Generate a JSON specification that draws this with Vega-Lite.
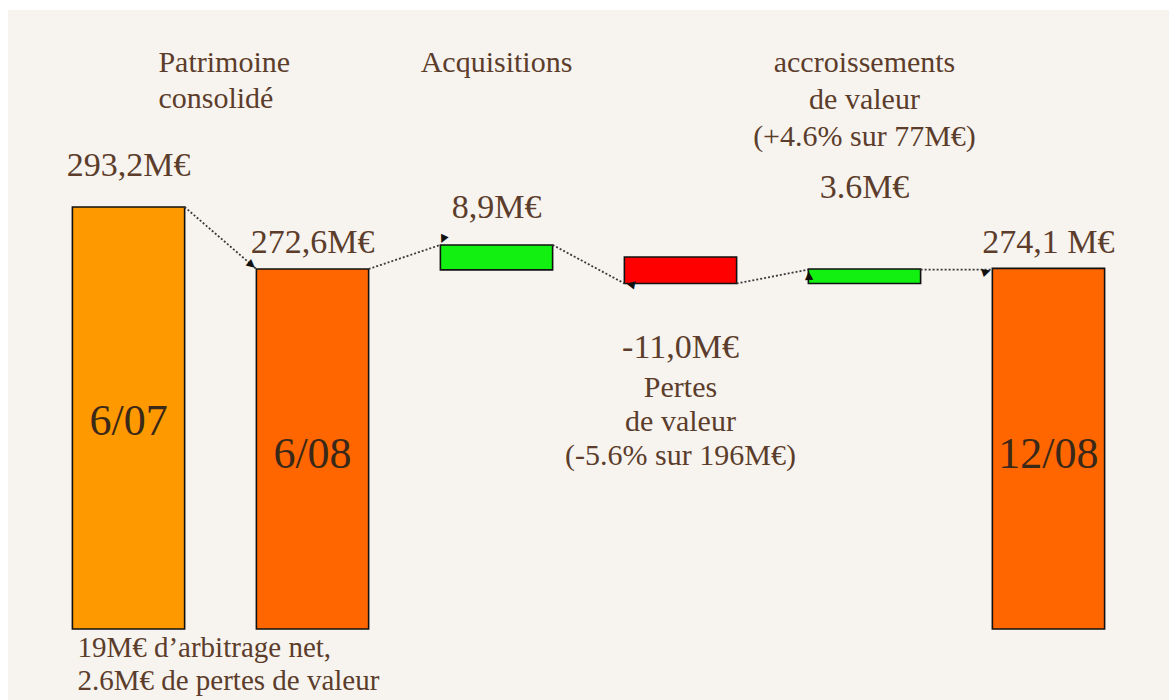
{
  "$schema": "https://vega.github.io/schema/vega-lite/v6.json",
  "width": 1169,
  "height": 700,
  "autosize": {"type": "fit", "contains": "padding"},
  "padding": {"left": 8, "top": 10, "right": 0, "bottom": 0},
  "background": "white",
  "config": {
    "view": {"stroke": null, "fill": "#f7f4f0"},
    "text": {"font": "Liberation Serif", "color": "#5c3d2b", "baseline": "alphabetic"}
  },
  "datasets": {
    "bars": [
      {"step": "6/07", "kind": "total2007", "start": 153.0, "end": 293.2},
      {"step": "6/08", "kind": "total", "start": 153.0, "end": 272.6},
      {"step": "Acquisitions", "kind": "hausse", "start": 272.3, "end": 280.6},
      {"step": "Pertes", "kind": "baisse", "start": 267.8, "end": 276.6},
      {"step": "Accroissements", "kind": "hausse", "start": 267.8, "end": 272.6},
      {"step": "12/08", "kind": "total", "start": 153.0, "end": 272.8}
    ],
    "links": [
      {"from": "6/07", "to": "6/08", "y_from": 293.2, "y_to": 272.6},
      {"from": "6/08", "to": "Acquisitions", "y_from": 272.6, "y_to": 280.6},
      {"from": "Acquisitions", "to": "Pertes", "y_from": 280.6, "y_to": 267.8},
      {"from": "Pertes", "to": "Accroissements", "y_from": 267.8, "y_to": 272.4},
      {"from": "Accroissements", "to": "12/08", "y_from": 272.4, "y_to": 272.4}
    ],
    "labels": [
      {"step": "6/07", "y": 338.05, "role": "titleLeft", "text": "Patrimoine\nconsolidé"},
      {"step": "Acquisitions", "y": 338.05, "role": "title", "text": "Acquisitions"},
      {"step": "Accroissements", "y": 338.05, "role": "title", "text": "accroissements\nde valeur\n(+4.6% sur 77M€)"},
      {"step": "Pertes", "y": 230.0, "role": "title2", "text": "Pertes\nde valeur\n(-5.6% sur 196M€)"},
      {"step": "6/07", "y": 303.5, "role": "value", "text": "293,2M€"},
      {"step": "6/08", "y": 277.9, "role": "value", "text": "272,6M€"},
      {"step": "Acquisitions", "y": 289.55, "role": "value", "text": "8,9M€"},
      {"step": "Pertes", "y": 243.0, "role": "value", "text": "-11,0M€"},
      {"step": "Accroissements", "y": 296.2, "role": "value", "text": "3.6M€"},
      {"step": "12/08", "y": 277.9, "role": "value", "text": "274,1 M€"},
      {"step": "6/07", "y": 217.45, "role": "date", "text": "6/07"},
      {"step": "6/08", "y": 206.5, "role": "date", "text": "6/08"},
      {"step": "12/08", "y": 206.5, "role": "date", "text": "12/08"},
      {"step": "6/07", "y": 143.7, "role": "note", "text": "19M€ d’arbitrage net,\n2.6M€ de pertes de valeur"}
    ]
  },
  "layer": [
    {
      "data": {"name": "bars"},
      "mark": {"type": "bar", "stroke": "#111111", "strokeWidth": 1.6},
      "encoding": {
        "x": {"field": "step", "type": "nominal", "axis": null,
              "scale": {"domain": ["6/07", "6/08", "Acquisitions", "Pertes", "Accroissements", "12/08"], "paddingInner": 0.39, "paddingOuter": 0.35}},
        "y": {"field": "start", "type": "quantitative", "axis": null,
              "scale": {"domain": [129.41, 358.65], "nice": false, "zero": false}},
        "y2": {"field": "end"},
        "color": {"field": "kind", "type": "nominal", "legend": null,
                  "scale": {"domain": ["total2007", "total", "hausse", "baisse"], "range": ["#ff9900", "#ff6600", "#11f011", "#ff0000"]}}
      }
    },
    {
      "data": {"name": "links"},
      "mark": {"type": "rule", "color": "#3a3a3a", "strokeWidth": 1.8, "strokeDash": [2, 2]},
      "encoding": {
        "x": {"field": "from", "type": "nominal", "bandPosition": 1, "axis": null,
              "scale": {"domain": ["6/07", "6/08", "Acquisitions", "Pertes", "Accroissements", "12/08"], "paddingInner": 0.39, "paddingOuter": 0.35}},
        "x2": {"field": "to", "bandPosition": 0},
        "y": {"field": "y_from", "type": "quantitative", "axis": null,
              "scale": {"domain": [129.41, 358.65], "nice": false, "zero": false}},
        "y2": {"field": "y_to"}
      }
    },
    {
      "data": {"name": "links"},
      "mark": {"type": "text", "font": "DejaVu Sans", "fontSize": 11, "align": "right", "baseline": "middle", "color": "#111111", "dx": -2},
      "encoding": {
        "x": {"field": "to", "type": "nominal", "bandPosition": 0, "axis": null,
              "scale": {"domain": ["6/07", "6/08", "Acquisitions", "Pertes", "Accroissements", "12/08"], "paddingInner": 0.39, "paddingOuter": 0.35}},
        "y": {"field": "y_to", "type": "quantitative", "axis": null,
              "scale": {"domain": [129.41, 358.65], "nice": false, "zero": false}},
        "text": {"value": "▶"},
        "angle": {"field": "to", "type": "nominal", "legend": null,
                  "scale": {"domain": ["6/08", "Acquisitions", "Pertes", "Accroissements", "12/08"], "range": [40, 342, 28, 349, 0]}}
      }
    },
    {
      "data": {"name": "labels"},
      "transform": [{"filter": "datum.role === 'titleLeft'"}],
      "mark": {"type": "text", "align": "left", "fontSize": 30, "lineHeight": 36, "lineBreak": "\n", "dx": 86},
      "encoding": {
        "x": {"field": "step", "type": "nominal", "bandPosition": 0, "axis": null,
              "scale": {"domain": ["6/07", "6/08", "Acquisitions", "Pertes", "Accroissements", "12/08"], "paddingInner": 0.39, "paddingOuter": 0.35}},
        "y": {"field": "y", "type": "quantitative", "axis": null,
              "scale": {"domain": [129.41, 358.65], "nice": false, "zero": false}},
        "text": {"field": "text", "type": "nominal"}
      }
    },
    {
      "data": {"name": "labels"},
      "transform": [{"filter": "datum.role === 'title'"}],
      "mark": {"type": "text", "align": "center", "fontSize": 30, "lineHeight": 37, "lineBreak": "\n"},
      "encoding": {
        "x": {"field": "step", "type": "nominal", "bandPosition": 0.5, "axis": null,
              "scale": {"domain": ["6/07", "6/08", "Acquisitions", "Pertes", "Accroissements", "12/08"], "paddingInner": 0.39, "paddingOuter": 0.35}},
        "y": {"field": "y", "type": "quantitative", "axis": null,
              "scale": {"domain": [129.41, 358.65], "nice": false, "zero": false}},
        "text": {"field": "text", "type": "nominal"}
      }
    },
    {
      "data": {"name": "labels"},
      "transform": [{"filter": "datum.role === 'title2'"}],
      "mark": {"type": "text", "align": "center", "fontSize": 30, "lineHeight": 34, "lineBreak": "\n"},
      "encoding": {
        "x": {"field": "step", "type": "nominal", "bandPosition": 0.5, "axis": null,
              "scale": {"domain": ["6/07", "6/08", "Acquisitions", "Pertes", "Accroissements", "12/08"], "paddingInner": 0.39, "paddingOuter": 0.35}},
        "y": {"field": "y", "type": "quantitative", "axis": null,
              "scale": {"domain": [129.41, 358.65], "nice": false, "zero": false}},
        "text": {"field": "text", "type": "nominal"}
      }
    },
    {
      "data": {"name": "labels"},
      "transform": [{"filter": "datum.role === 'value'"}],
      "mark": {"type": "text", "align": "center", "fontSize": 34},
      "encoding": {
        "x": {"field": "step", "type": "nominal", "bandPosition": 0.5, "axis": null,
              "scale": {"domain": ["6/07", "6/08", "Acquisitions", "Pertes", "Accroissements", "12/08"], "paddingInner": 0.39, "paddingOuter": 0.35}},
        "y": {"field": "y", "type": "quantitative", "axis": null,
              "scale": {"domain": [129.41, 358.65], "nice": false, "zero": false}},
        "text": {"field": "text", "type": "nominal"}
      }
    },
    {
      "data": {"name": "labels"},
      "transform": [{"filter": "datum.role === 'date'"}],
      "mark": {"type": "text", "align": "center", "fontSize": 44, "color": "#3a2818"},
      "encoding": {
        "x": {"field": "step", "type": "nominal", "bandPosition": 0.5, "axis": null,
              "scale": {"domain": ["6/07", "6/08", "Acquisitions", "Pertes", "Accroissements", "12/08"], "paddingInner": 0.39, "paddingOuter": 0.35}},
        "y": {"field": "y", "type": "quantitative", "axis": null,
              "scale": {"domain": [129.41, 358.65], "nice": false, "zero": false}},
        "text": {"field": "text", "type": "nominal"}
      }
    },
    {
      "data": {"name": "labels"},
      "transform": [{"filter": "datum.role === 'note'"}],
      "mark": {"type": "text", "align": "left", "fontSize": 29, "lineHeight": 33, "lineBreak": "\n", "dx": 5},
      "encoding": {
        "x": {"field": "step", "type": "nominal", "bandPosition": 0, "axis": null,
              "scale": {"domain": ["6/07", "6/08", "Acquisitions", "Pertes", "Accroissements", "12/08"], "paddingInner": 0.39, "paddingOuter": 0.35}},
        "y": {"field": "y", "type": "quantitative", "axis": null,
              "scale": {"domain": [129.41, 358.65], "nice": false, "zero": false}},
        "text": {"field": "text", "type": "nominal"}
      }
    }
  ]
}
